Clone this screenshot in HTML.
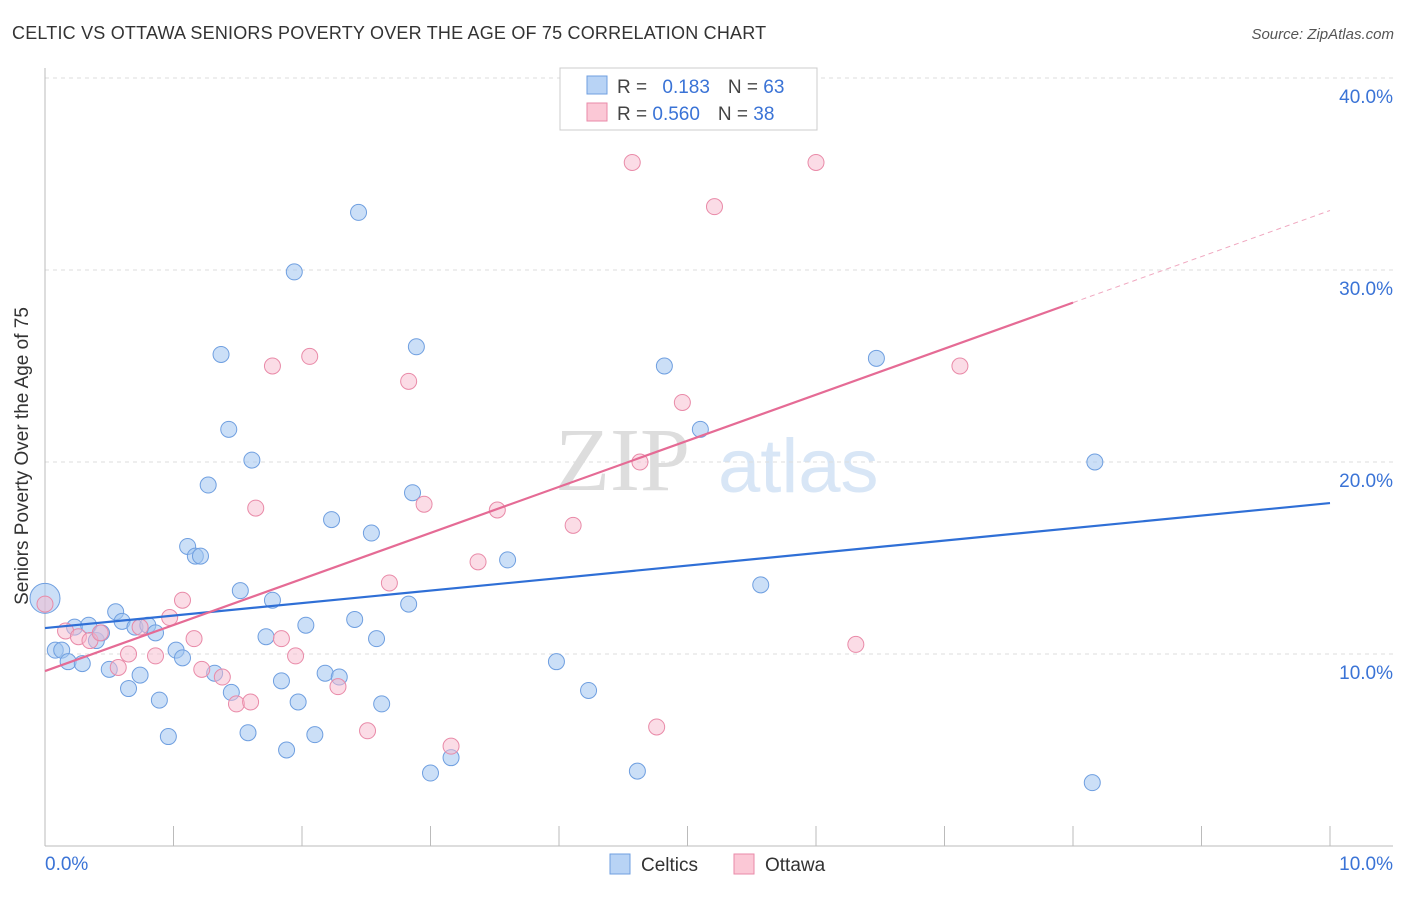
<!DOCTYPE html>
<html><head><meta charset="utf-8"><style>
body{margin:0;background:#fff;font-family:"Liberation Sans",sans-serif}
</style></head><body>
<svg width="1406" height="892" xmlns="http://www.w3.org/2000/svg">
<text x="12" y="39" font-size="18" fill="#333" letter-spacing="0.2">CELTIC VS OTTAWA SENIORS POVERTY OVER THE AGE OF 75 CORRELATION CHART</text>
<text x="1394" y="39" font-size="15" fill="#555" font-style="italic" text-anchor="end">Source: ZipAtlas.com</text>
<text x="28" y="456" font-size="19" fill="#333" text-anchor="middle" transform="rotate(-90 28 456)">Seniors Poverty Over the Age of 75</text>
<text x="555" y="490" font-size="90" fill="#ddd" font-family="Liberation Serif,serif">ZIP</text>
<text x="718" y="492" font-size="76" fill="#d8e6f6">atlas</text>
<g id="grid"></g><g id="axes"></g><g id="marks"></g>
<g>
<rect x="560" y="68" width="257" height="62" fill="#fff" stroke="#ccc"/>
<rect x="587" y="76" width="20" height="18" fill="#b8d3f5" stroke="#6f9fe0"/>
<rect x="587" y="103" width="20" height="18" fill="#fbc8d6" stroke="#e98aa8"/>
<text x="617" y="93" font-size="19" fill="#444">R = <tspan fill="#3a73d6" dx="10">0.183</tspan><tspan dx="18" fill="#444">N = </tspan><tspan fill="#3a73d6">63</tspan></text>
<text x="617" y="120" font-size="19" fill="#444">R = <tspan fill="#3a73d6">0.560</tspan><tspan dx="18" fill="#444">N = </tspan><tspan fill="#3a73d6">38</tspan></text>
</g>
<g>
<rect x="610" y="854" width="20" height="20" fill="#b8d3f5" stroke="#6f9fe0"/>
<text x="641" y="871" font-size="19" fill="#333">Celtics</text>
<rect x="734" y="854" width="20" height="20" fill="#fbc8d6" stroke="#e98aa8"/>
<text x="765" y="871" font-size="19" fill="#333">Ottawa</text>
</g>
</svg>
<script>
const yTicks=[10,20,30,40];
const xTickLabels=["0.0%","10.0%"];
const blueX=[0,0.08,0.13,0.18,0.23,0.29,0.34,0.4,0.44,0.5,0.55,0.6,0.65,0.7,0.74,0.8,0.86,0.89,0.96,1.02,1.07,1.11,1.17,1.21,1.27,1.32,1.37,1.43,1.45,1.52,1.58,1.61,1.72,1.77,1.84,1.88,1.94,1.97,2.03,2.1,2.18,2.23,2.29,2.41,2.44,2.54,2.58,2.62,2.83,2.86,2.89,3.0,3.16,3.6,3.98,4.23,4.61,4.82,5.1,5.57,6.47,8.17,8.15];
const blueY=[12.9,10.2,10.2,9.6,11.4,9.5,11.5,10.7,11.1,9.2,12.2,11.7,8.2,11.4,8.9,11.5,11.1,7.6,5.7,10.2,9.8,15.6,15.1,15.1,18.8,9.0,25.6,21.7,8.0,13.3,5.9,20.1,10.9,12.8,8.6,5.0,29.9,7.5,11.5,5.8,9.0,17.0,8.8,11.8,33.0,16.3,10.8,7.4,12.6,18.4,26.0,3.8,4.6,14.9,9.6,8.1,3.9,25.0,21.7,13.6,25.4,20.0,3.3];
const pinkX=[0,0.16,0.26,0.35,0.43,0.57,0.65,0.74,0.86,0.97,1.07,1.16,1.22,1.38,1.49,1.6,1.64,1.77,1.84,1.95,2.06,2.28,2.51,2.68,2.83,2.95,3.16,3.37,3.52,4.11,4.57,4.63,4.76,4.96,5.21,6.0,6.31,7.12];
const pinkY=[12.6,11.2,10.9,10.7,11.1,9.3,10.0,11.4,9.9,11.9,12.8,10.8,9.2,8.8,7.4,7.5,17.6,25.0,10.8,9.9,25.5,8.3,6.0,13.7,24.2,17.8,5.2,14.8,17.5,16.7,35.6,20.0,6.2,23.1,33.3,35.6,10.5,25.0];
const blueTrend=[11.35,17.86];
const pinkTrend=[9.11,33.1];
const pinkSolidEnd=8.0;
const X=v=>45+v*128.5, Y=v=>846-v*19.2;
const NS="http://www.w3.org/2000/svg";
function mk(t,a,p){const e=document.createElementNS(NS,t);for(const k in a)e.setAttribute(k,a[k]);p.appendChild(e);return e;}
const grid=document.getElementById('grid'),axes=document.getElementById('axes'),marks=document.getElementById('marks');
yTicks.forEach(t=>{
const l=mk('line',{x1:45,x2:1393,y1:Y(t),y2:Y(t),stroke:'#ddd','stroke-dasharray':'4,4'},grid);


const tx=mk('text',{x:1393,y:Y(t)+25,'font-size':19,fill:'#3a73d6','text-anchor':'end'},axes);
tx.textContent=t.toFixed(1)+'%';


});
const ya=mk('line',{x1:45,x2:45,y1:68,y2:846,stroke:'#bbb'},axes);


const xa=mk('line',{x1:45,x2:1393,y1:846,y2:846,stroke:'#bbb'},axes);


for(let i=0;i<=10;i++){const tk=mk('line',{x1:X(i),x2:X(i),y1:826,y2:846,stroke:'#bbb'},axes);

}
[[0,'start',45],[10,'end',1393]].forEach((d,i)=>{const tx=mk('text',{x:d[2],y:870,'font-size':19,fill:'#3a73d6','text-anchor':d[1]},axes);tx.textContent=xTickLabels[i];

});
blueX.forEach((x,i)=>{const c=mk('circle',{cx:X(x),cy:Y(blueY[i]),r:i==0?15:8,fill:'rgba(160,196,240,0.55)',stroke:'#6f9fe0','stroke-width':1},marks);

});
pinkX.forEach((x,i)=>{const c=mk('circle',{cx:X(x),cy:Y(pinkY[i]),r:8,fill:'rgba(248,185,205,0.5)',stroke:'#e98aa8','stroke-width':1},marks);

});
const bl=mk('line',{x1:X(0),y1:Y(blueTrend[0]),x2:X(10),y2:Y(blueTrend[1]),stroke:'#2f6fd6','stroke-width':2.2},marks);


const pe=pinkTrend[0]+(pinkTrend[1]-pinkTrend[0])*pinkSolidEnd/10;
const pl=mk('line',{x1:X(0),y1:Y(pinkTrend[0]),x2:X(pinkSolidEnd),y2:Y(pe),stroke:'#e56b95','stroke-width':2.2},marks);


const pd=mk('line',{x1:X(pinkSolidEnd),y1:Y(pe),x2:X(10),y2:Y(pinkTrend[1]),stroke:'#f0a8c0','stroke-width':1,'stroke-dasharray':'5,4'},marks);


</script>
</body></html>
